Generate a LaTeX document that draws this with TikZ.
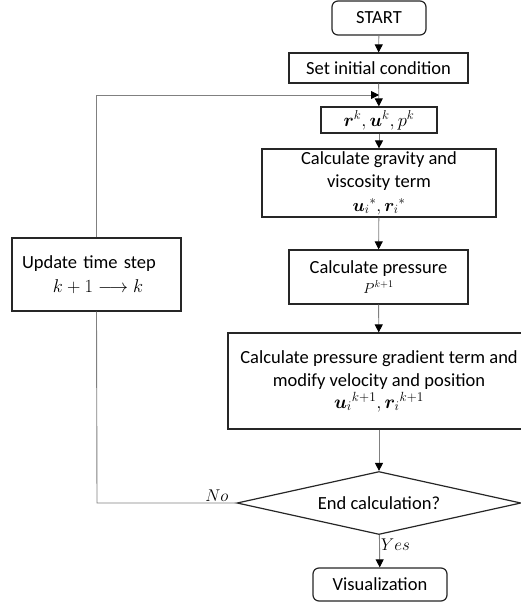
\RequirePackage{fix-cm}
\documentclass[tikz,border=0pt]{standalone}
\usepackage{amsmath}
\usepackage{bm}
\usepackage{fontspec}
\setmainfont{Carlito}
\usetikzlibrary{arrows.meta,shapes.geometric}
\tikzset{
  box/.style={draw=black!85, line width=1.2pt, fill=white, align=center, inner sep=2pt,
    font=\fontsize{18.5}{23.5}\selectfont},
  rbox/.style={box, rounded corners=6pt},
  decision/.style={draw=black!85, line width=1.2pt, diamond, aspect=4.5, inner sep=0pt, align=center,
    font=\fontsize{18.5}{23.5}\selectfont},
  conn/.style={draw=black!50, line width=0.9pt},
  arr/.style={conn, -{Triangle[length=8pt,width=8pt,color=black]}},
  lbl/.style={font=\fontsize{17}{20}\selectfont, inner sep=1pt}
}
\begin{document}
\begin{tikzpicture}[x=1pt,y=-1pt]
\useasboundingbox (0,0) rectangle (520,603);
\node[rbox, minimum width=94pt, minimum height=34pt] (start) at (379,18) {START};
\node[box, minimum width=179pt, minimum height=30pt] (init) at (378.5,68) {Set initial condition};
\node[box, minimum width=116pt, minimum height=26pt] (rk) at (379,120) {$\bm{r}^k,\bm{u}^k,p^k$};
\node[box, inner ysep=0pt, minimum width=234pt, minimum height=68pt] (grav) at (379,183)
  {Calculate gravity and\\viscosity term\\[0pt]{\fontsize{18}{20}\selectfont$ {\bm{u}_i}^{*},{\bm{r}_i}^{*}$}};
\node[box, minimum width=179pt, minimum height=54pt] (press) at (378.5,277)
  {Calculate pressure\\[-4pt]{\fontsize{14.5}{16}\selectfont$P^{k+1}$}};
\node[box, minimum width=302pt, minimum height=96pt] (grad) at (379,381)
  {Calculate pressure gradient term and\\modify velocity and position\\[-2pt]{\fontsize{19}{21}\selectfont$ {\bm{u}_i}^{k+1},{\bm{r}_i}^{k+1}$}};
\node[decision, minimum width=284pt, minimum height=63pt] (dec) at (379,503) {End calculation?};
\node[rbox, minimum width=134pt, minimum height=33pt] (vis) at (380,584.5) {Visualization};
\node[box, minimum width=169pt, minimum height=73pt, text width=149pt, align=left] (upd) at (96.5,274.5)
  {Update time step\\\hspace*{31pt}$k+1\longrightarrow k$};
\coordinate (join) at (379,95);
\coordinate (lp) at (97,503);
\draw[arr] (start) -- (init);
\draw[arr] (init) -- (rk);
\draw[arr] (rk) -- (grav);
\draw[arr] (grav) -- (press);
\draw[arr] (press) -- (grad);
\draw[arr] (grad) -- (dec);
\draw[arr] (dec) -- node[lbl, right, pos=0.3] {$Yes$} (vis);
\draw[conn] (dec.west) -- node[lbl, above, pos=0.14] {$No$} (lp) -- (upd.south);
\draw[arr] (upd.north) |- (join);
\end{tikzpicture}
\end{document}
